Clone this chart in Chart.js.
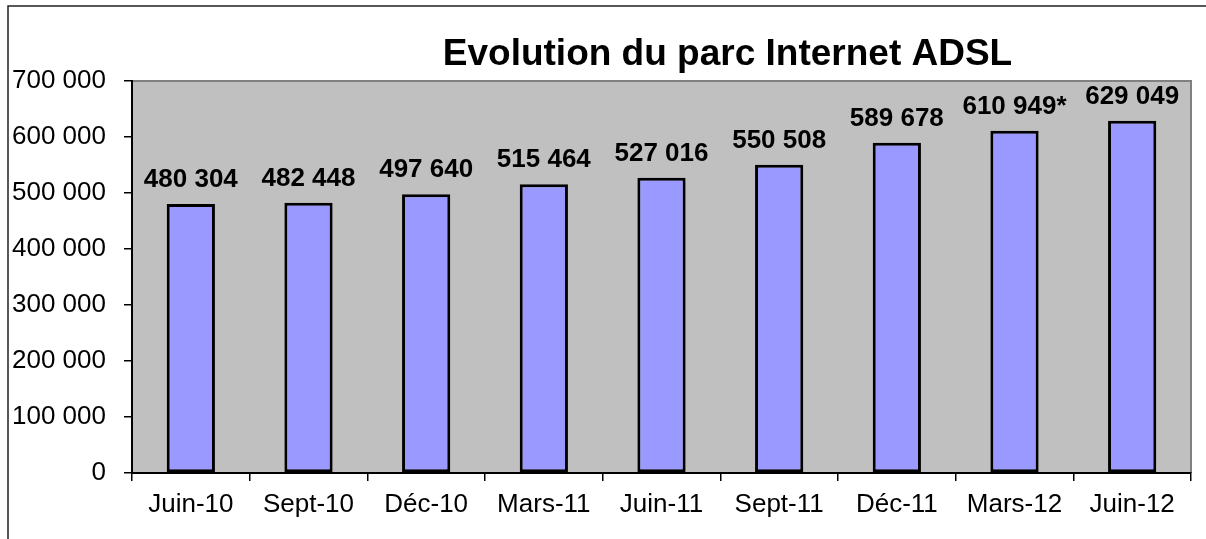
<!DOCTYPE html>
<html><head><meta charset="utf-8">
<script src="https://cdn.jsdelivr.net/npm/chart.js@4/dist/chart.umd.min.js"></script>
<style>html,body{margin:0;padding:0;background:#fff;overflow:hidden}#wrap{position:relative;width:1206px;height:539px}</style>
</head><body><div id="wrap"><canvas id="c" width="1206" height="539"></canvas></div>
<script>
const categories = ["Juin-10","Sept-10","Déc-10","Mars-11","Juin-11","Sept-11","Déc-11","Mars-12","Juin-12"];
const subscribers = [480304,482448,497640,515464,527016,550508,589678,610949,629049];
const labelNotes = ["","","","","","","","*",""];
const yTicks = [0,100000,200000,300000,400000,500000,600000,700000];
const chartTitle = "Evolution du parc Internet ADSL";

const FONT = "'Liberation Sans', Arial, sans-serif";
const fmt = n => String(n).replace(/\B(?=(\d{3})+(?!\d))/g, ' ');

const decor = {
  id: 'decor',
  beforeDraw(chart) {
    const ctx = chart.ctx, a = chart.chartArea;
    ctx.save();
    ctx.fillStyle = '#fff';
    ctx.fillRect(0, 0, chart.width, chart.height);
    // outer frame (top + left visible)
    ctx.strokeStyle = '#222';
    ctx.lineWidth = 1.5;
    ctx.beginPath();
    ctx.moveTo(8, chart.height);
    ctx.lineTo(8, 6);
    ctx.lineTo(chart.width, 6);
    ctx.stroke();
    // plot area
    ctx.fillStyle = '#C0C0C0';
    ctx.fillRect(a.left, a.top, a.right - a.left, a.bottom - a.top);
    ctx.strokeStyle = '#808080';
    ctx.lineWidth = 2;
    ctx.beginPath();
    ctx.moveTo(a.left, a.top);
    ctx.lineTo(a.right, a.top);
    ctx.lineTo(a.right, a.bottom);
    ctx.stroke();
    ctx.restore();
  },
  afterDraw(chart) {
    const ctx = chart.ctx;
    ctx.save();
    ctx.fillStyle = '#000';
    ctx.textAlign = 'center';
    ctx.textBaseline = 'alphabetic';
    ctx.font = 'bold 37px ' + FONT;
    ctx.fillText(chartTitle, 727.5, 65);
    ctx.font = 'bold 26px ' + FONT;
    const meta = chart.getDatasetMeta(0);
    meta.data.forEach((bar, i) => {
      ctx.fillText(fmt(subscribers[i]) + labelNotes[i], bar.x, bar.y - 17);
    });
    ctx.restore();
  }
};

new Chart(document.getElementById('c'), {
  type: 'bar',
  data: {
    labels: categories,
    datasets: [{
      data: subscribers,
      backgroundColor: '#9999FF',
      borderColor: '#000',
      borderWidth: 3,
      borderSkipped: false,
      categoryPercentage: 1,
      barPercentage: 0.41
    }]
  },
  options: {
    responsive: false,
    animation: false,
    devicePixelRatio: 1,
    layout: { padding: { left: 0, right: 15, top: 81, bottom: 0 } },
    plugins: { legend: { display: false }, title: { display: false }, tooltip: { enabled: false } },
    scales: {
      x: {
        offset: true,
        grid: { display: true, drawOnChartArea: false, offset: true, tickLength: 8, color: '#000', lineWidth: 1.5 },
        border: { display: true, color: '#000', width: 2 },
        ticks: { color: '#000', font: { family: FONT, size: 26 }, padding: 8, maxRotation: 0, autoSkip: false },
        afterFit(s) { s.height = 66; }
      },
      y: {
        min: 0, max: 700000,
        afterBuildTicks(s) { s.ticks = yTicks.map(v => ({ value: v })); },
        grid: { display: true, drawOnChartArea: false, tickLength: 8, color: '#000', lineWidth: 1.5 },
        border: { display: true, color: '#000', width: 2 },
        ticks: { color: '#000', font: { family: FONT, size: 26 }, padding: 18, callback: v => fmt(v) },
        afterFit(s) { s.width = 132; }
      }
    }
  },
  plugins: [decor]
});
</script>
</body></html>
